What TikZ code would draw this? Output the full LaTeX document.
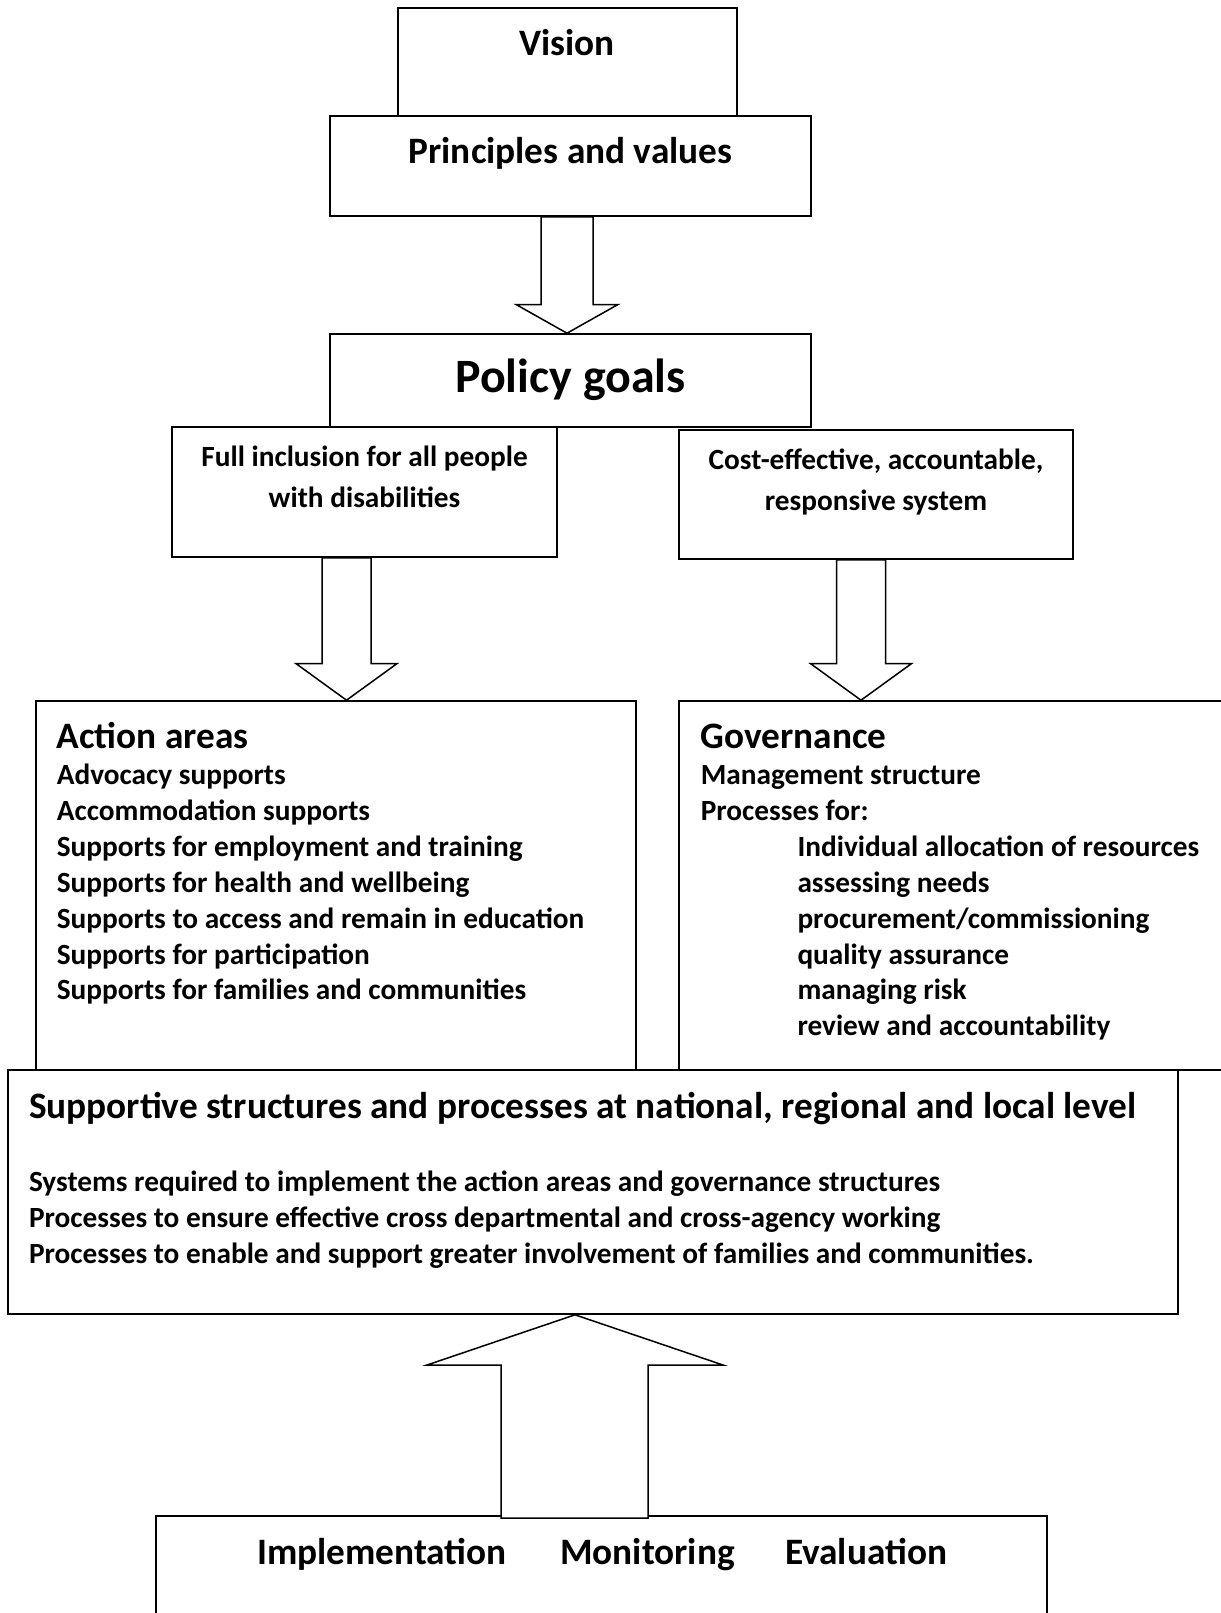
\documentclass[tikz,border=0pt]{standalone}
\usepackage{fontspec}
\setmainfont{Carlito}
\usetikzlibrary{calc,fit}

\tikzset{
  box/.style={draw, line width=1.6pt, inner sep=0pt, fill=white},
  barrow/.style={draw, line width=1.5pt, fill=white, line join=miter},
  body/.style={inner sep=0pt, font=\bfseries\fontsize{29.3}{34}\selectfont},
  head/.style={inner sep=0pt, font=\bfseries\fontsize{37.3}{42}\selectfont},
  big/.style={inner sep=0pt, font=\bfseries\fontsize{47.9}{54}\selectfont},
}

% block arrow pointing down: #1 centre x, #2 half shaft, #3 half head,
% #4 node it leaves, #5 y where the head starts, #6 node it points at
\newcommand{\blockdown}[6]{%
  \draw[barrow] let \p1=(#4.south), \p2=(#6.north) in
    ({#1-#2},\y1) -- ({#1-#2},#5) -- ({#1-#3},#5) -- (#1,\y2)
    -- ({#1+#3},#5) -- ({#1+#2},#5) -- ({#1+#2},\y1) -- cycle;}

\begin{document}
\begin{tikzpicture}[x=1pt,y=-1pt]
\useasboundingbox (0,0) rectangle (1220,1613);

% ---- boxes ----
\node[box, fit={(398,8)(737,116)}] (vision) {};
\node[box, fit={(330,116)(811,216)}] (principles) {};
\node[box, fit={(330,334)(811,427)}] (policy) {};
\node[box, fit={(172,427)(557,557)}] (inclusion) {};
\node[box, fit={(679,430)(1073,559)}] (cost) {};
\node[box, fit={(36,701)(636,1070)}] (action) {};
\node[box, fit={(679,701)(1226,1070)}] (governance) {};
\node[box, fit={(8,1070)(1178,1314)}] (support) {};
\node[box, fit={(156,1516)(1047,1625)}] (ime) {};

% ---- texts ----
\node[head, anchor=base] (tvision) at (567,56) {Vision};
\node[head, anchor=base] (tprinciples) at (570.5,164) {Principles and values};
\node[big, anchor=base] (tpolicy) at (570.5,392) {Policy goals};
\node[body, anchor=base] (tinc1) at (364.5,466) {Full inclusion for all people};
\node[body, anchor=base] (tinc2) at (364.5,507) {with disabilities};
\node[body, anchor=base] (tcost1) at (876,469) {Cost-effective, accountable,};
\node[body, anchor=base] (tcost2) at (876,510) {responsive system};

\node[head, anchor=base west] (taction) at (56.6,748) {Action areas};
\foreach \t [count=\i] in {Advocacy supports, Accommodation supports,
    Supports for employment and training, Supports for health and wellbeing,
    Supports to access and remain in education, Supports for participation,
    Supports for families and communities}
  \node[body, anchor=base west] (act\i) at (56.6,{784.5+35.9*(\i-1)}) {\t};

\node[head, anchor=base west] (tgov) at (700.6,748) {Governance};
\node[body, anchor=base west] (gov1) at (700.6,784.5) {Management structure};
\node[body, anchor=base west] (gov2) at (700.6,820.4) {Processes for:};
\foreach \t [count=\i from 3] in {Individual allocation of resources,
    assessing needs, procurement/commissioning, quality assurance,
    managing risk, review and accountability}
  \node[body, anchor=base west] (gov\i) at (797.3,{784.5+35.9*(\i-1)}) {\t};

\node[head, anchor=base west] (tsupport) at (28.8,1118)
  {Supportive structures and processes at national, regional and local level};
\node[body, anchor=base west] (sup1) at (28.8,1191.4)
  {Systems required to implement the action areas and governance structures};
\node[body, anchor=base west] (sup2) at (28.8,1227.4)
  {Processes to ensure effective cross departmental and cross-agency working};
\node[body, anchor=base west] (sup3) at (28.8,1263.4)
  {Processes to enable and support greater involvement of families and communities.};

\node[head, anchor=base west] (timpl) at (257,1564) {Implementation};
\node[head, anchor=base west] (tmon) at (560,1564) {Monitoring};
\node[head, anchor=base west] (teval) at (785,1564) {Evaluation};

% ---- block arrows ----
\blockdown{567}{26}{51}{principles}{304.5}{policy}
\blockdown{346.5}{24.5}{50.5}{inclusion}{663.6}{action}
\blockdown{861}{24.5}{50.5}{cost}{663.6}{governance}
\draw[barrow] let \p1=(ime.north), \p2=(support.south) in
  (501,{\y1-3pt}) -- (501,1365) -- (427,1365) -- (575,\y2)
  -- (723,1365) -- (648,1365) -- (648,{\y1-3pt}) -- cycle;
\end{tikzpicture}
\end{document}
